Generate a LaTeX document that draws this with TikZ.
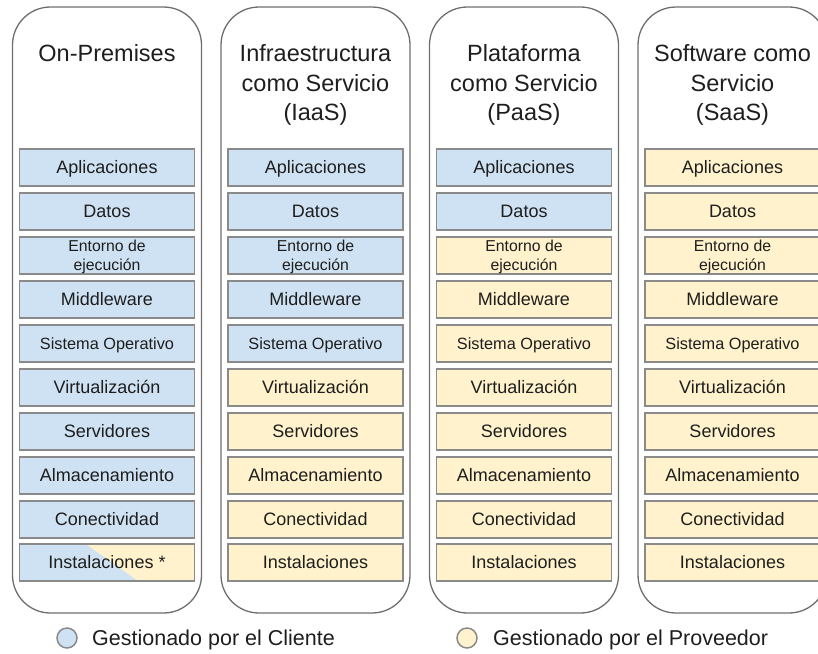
\documentclass[tikz,border=0pt]{standalone}
\usepackage{fontspec}
\setmainfont{Liberation Sans}
\definecolor{custblue}{HTML}{CFE2F3}
\definecolor{provyellow}{HTML}{FFF2CC}
\definecolor{boxline}{HTML}{8A8A8A}
\definecolor{colline}{HTML}{6E6E6E}
\definecolor{txt}{HTML}{1E1E1E}
\begin{document}
\begin{tikzpicture}[x=1pt,y=-1pt,
  column/.style={draw=colline, line width=1.3pt, rounded corners=38pt},
  coltitle/.style={anchor=north, inner sep=0pt, align=center, text=txt,
    font=\fontsize{23.5}{29.5}\selectfont},
  layer/.style={draw=boxline, line width=1.5pt, minimum width=175pt, minimum height=37pt,
    inner sep=0pt, text=txt, font=\fontsize{18}{21}\selectfont, text height=12.9pt, text depth=0pt},
  layersmall/.style={layer, font=\fontsize{16.3}{19}\selectfont, text height=11.7pt},
  layertwo/.style={layer, align=center, font=\fontsize{15.8}{19}\selectfont, text height=30.3pt, text depth=0pt},
  dot/.style={circle, draw=boxline, line width=1.5pt, minimum size=20pt, inner sep=0pt},
  legendtext/.style={anchor=west, inner sep=0pt, text=txt, font=\fontsize{21.5}{26}\selectfont,
    text height=15.4pt, text depth=0pt}
]
\useasboundingbox (0,0) rectangle (818,653);
\clip (0,0) rectangle (818,653);

% columns
\foreach \c/\nb/\ttl in {1/10/{On-Premises}, 2/5/{Infraestructura\\como Servicio\\(IaaS)},
                          3/2/{Plataforma\\como Servicio\\(PaaS)}, 4/0/{Software como\\Servicio\\(SaaS)}}{
  \pgfmathsetmacro{\cx}{107+208.5*(\c-1)}
  \draw[column] (\cx-94.5,7) rectangle (\cx+94.5,613);
  \node[coltitle] (t\c) at (\cx,44.5) {\ttl};
  \foreach \lbl/\sty [count=\r from 0] in {Aplicaciones/layer, Datos/layer,
      {Entorno de\\ejecución}/layertwo, Middleware/layer, {Sistema Operativo}/layersmall,
      Virtualización/layer, Servidores/layer, Almacenamiento/layer, Conectividad/layer}{
    \ifnum\r<\nb\relax\def\fc{custblue}\else\def\fc{provyellow}\fi
    \node[\sty, fill=\fc] (c\c-r\r) at (\cx,167.5+44*\r) {\lbl};
  }
}

% row 10: Instalaciones
\fill[custblue] (19,544) rectangle (194,581);
\fill[provyellow] (86,544) -- (194,544) -- (194,581) -- (138,581) -- cycle;
\node[layer] (c1-r9) at (107,562.5) {Instalaciones *};
\node[layer, fill=provyellow] (c2-r9) at (315.5,562.5) {Instalaciones};
\node[layer, fill=provyellow] (c3-r9) at (524,562.5) {Instalaciones};
\node[layer, fill=provyellow] (c4-r9) at (732.5,562.5) {Instalaciones};

% legend
\node[dot, fill=custblue] (lc) at (67,638) {};
\node[legendtext] (lct) at (92,638) {Gestionado por el Cliente};
\node[dot, fill=provyellow] (lp) at (467,638) {};
\node[legendtext] (lpt) at (493,638) {Gestionado por el Proveedor};
\end{tikzpicture}
\end{document}
